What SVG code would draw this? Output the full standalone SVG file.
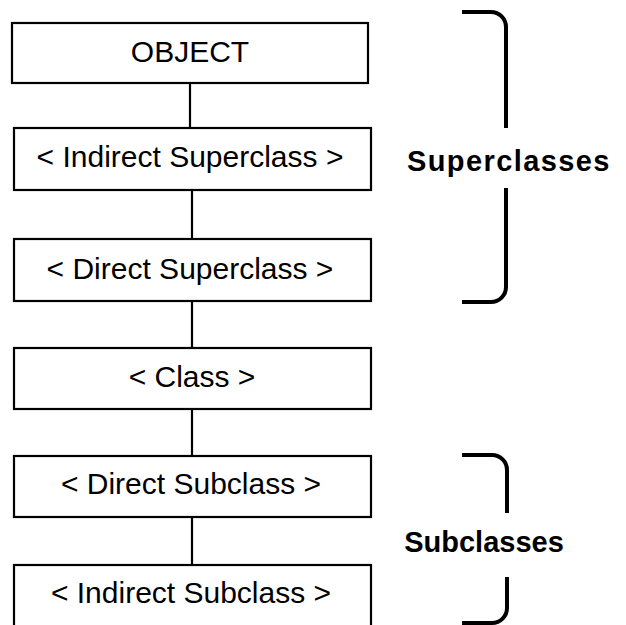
<svg xmlns="http://www.w3.org/2000/svg" width="626" height="625" viewBox="0 0 626 625">
<style>
.box{fill:#fff;stroke:#000;stroke-width:2.2}
.lbl{font-family:"Liberation Sans",Arial,sans-serif;font-size:30px;fill:#000;text-anchor:middle}
.conn{stroke:#000;stroke-width:2.2;fill:none}
.brk{stroke:#000;stroke-width:4;fill:none}
.side{font-family:"Liberation Sans",Arial,sans-serif;font-size:29px;font-weight:bold;fill:#000}
</style>
<rect width="626" height="625" fill="#fff"/>
<g id="connectors">
<line class="conn" x1="190" y1="83" x2="190" y2="128"/>
<line class="conn" x1="192" y1="190" x2="192" y2="239"/>
<line class="conn" x1="192" y1="301" x2="192" y2="348"/>
<line class="conn" x1="192" y1="409" x2="192" y2="456"/>
<line class="conn" x1="192" y1="517" x2="192" y2="565"/>
</g>
<g id="object">
<rect class="box" x="12" y="23" width="356" height="60"/>
<text class="lbl" x="190" y="62">OBJECT</text>
</g>
<g id="indirect-superclass">
<rect class="box" x="14" y="128" width="357" height="62"/>
<text class="lbl" x="190" y="167">&lt; Indirect Superclass &gt;</text>
</g>
<g id="direct-superclass">
<rect class="box" x="14" y="239" width="357" height="62"/>
<text class="lbl" x="190" y="279">&lt; Direct Superclass &gt;</text>
</g>
<g id="class">
<rect class="box" x="14" y="348" width="357" height="61"/>
<text class="lbl" x="192" y="387">&lt; Class &gt;</text>
</g>
<g id="direct-subclass">
<rect class="box" x="14" y="456" width="357" height="61"/>
<text class="lbl" x="191" y="494">&lt; Direct Subclass &gt;</text>
</g>
<g id="indirect-subclass">
<rect class="box" x="14" y="565" width="357" height="70"/>
<text class="lbl" x="191" y="603">&lt; Indirect Subclass &gt;</text>
</g>
<g id="superclasses-bracket">
<path class="brk" d="M462,12 H491 A15,15 0 0 1 506,27 V128"/>
<path class="brk" d="M506,188 V287 A15,15 0 0 1 491,302 H462"/>
<text class="side" x="407" y="171" letter-spacing="1.4">Superclasses</text>
</g>
<g id="subclasses-bracket">
<path class="brk" d="M462,455 H492 A15,15 0 0 1 507,470 V513"/>
<path class="brk" d="M507,577 V608 A15,15 0 0 1 492,623 H462"/>
<text class="side" x="484" y="552" text-anchor="middle">Subclasses</text>
</g>
</svg>
